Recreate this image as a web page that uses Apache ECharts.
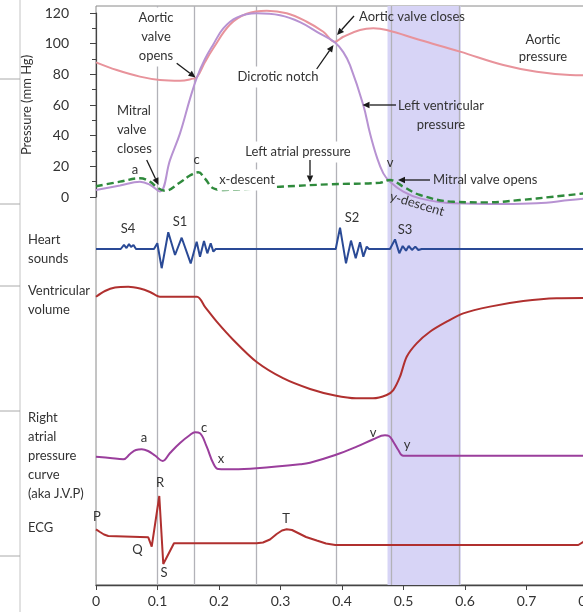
<!DOCTYPE html>
<html>
<head>
<meta charset="utf-8">
<script src="https://cdn.jsdelivr.net/npm/echarts@6/dist/echarts.min.js"></script>
<style>
  html, body { margin: 0; padding: 0; background: #fff; }
  #chart { width: 583px; height: 612px; }
</style>
</head>
<body>
<div id="chart"></div>
<script>
// Time axis (seconds)
const timeMin = 0;
const timeMax = 0.8;
const timeStep = 0.1;

// Timing of the cardiac events (vertical guide lines) and the rapid filling band
const eventTimes = [0.104, 0.1642, 0.261, 0.389, 0.4765, 0.593];
const fillingBand = [0.474, 0.593];

// Pressures, mm Hg  [time, value]
const aorticPressure = [
  [0, 87.8], [0.0337, 82.8], [0.0715, 78.5], [0.104, 76.3], [0.1366, 75.8], [0.1582, 77.2],
  [0.1642, 78.1], [0.1772, 88], [0.1907, 97], [0.2179, 112.5], [0.245, 119.5], [0.2776, 121.5],
  [0.3101, 119.8], [0.3426, 114.3], [0.3696, 107.8], [0.3886, 101.3], [0.4021, 104.5],
  [0.4293, 108.9], [0.4509, 110], [0.4727, 108.9], [0.5268, 102.4], [0.5919, 94.8],
  [0.6623, 86.1], [0.7166, 81.7], [0.7707, 79.6], [0.8, 79.4]
];
const leftVentricularPressure = [
  [0, 4.6], [0.039, 7.5], [0.0715, 10], [0.0878, 8], [0.104, 3.6], [0.1203, 24], [0.1366, 41.5],
  [0.1528, 64], [0.1642, 78.1], [0.1772, 90], [0.1907, 99.5], [0.207, 110], [0.2288, 117],
  [0.2613, 119.8], [0.2992, 118.5], [0.3317, 114], [0.3642, 106.5], [0.3886, 100.8], [0.4021, 94.5],
  [0.413, 86], [0.4346, 60], [0.4455, 41.5], [0.4564, 26.3], [0.4672, 15.4], [0.478, 10],
  [0.4997, 3.5], [0.5268, -0.9], [0.581, -4.1], [0.6623, -4.6], [0.7166, -4.1], [0.7707, -2], [0.8, -0.9]
];
const leftAtrialPressure = [
  [0, 7], [0.039, 10], [0.0715, 12.2], [0.0878, 10], [0.1013, 5.7], [0.1122, 4.1], [0.1366, 9.5],
  [0.1528, 14], [0.1663, 16.1], [0.1772, 12], [0.1907, 5.7], [0.207, 4.6], [0.2992, 6.7],
  [0.3805, 8.3], [0.4618, 9.3], [0.478, 11.1], [0.4997, 6.7], [0.5268, 1.3], [0.581, -3.1],
  [0.6353, -3.5], [0.6894, -2], [0.7436, 0.2], [0.8, 2.6]
];
const pressureTicks = [0, 20, 40, 60, 80, 100, 120];

// Heart sounds (relative amplitude)
const heartSounds = [
  [0, 0], [0.0402, 0], [0.0455, 0.17], [0.0496, 0.04], [0.0537, 0.21], [0.0569, 0.08], [0.061, 0.17], [0.065, 0],
  [0.0943, 0], [0.0997, 0.24], [0.1068, -0.8], [0.1175, 0.7], [0.1285, -0.25], [0.1393, 0.47], [0.154, -0.6],
  [0.1637, 0.3], [0.1691, -0.32], [0.1756, 0.33], [0.181, -0.18], [0.1865, 0.24], [0.1908, -0.11], [0.1947, 0],
  [0.3898, 0], [0.3968, 0.89], [0.4065, -0.6], [0.4146, 0.35], [0.4223, -0.39], [0.4293, 0.28], [0.4347, -0.32],
  [0.4402, 0.1], [0.4439, 0],
  [0.478, 0], [0.4862, 0.4], [0.4932, -0.18], [0.4987, 0.125], [0.5041, -0.07], [0.5085, 0.125], [0.5138, -0.04],
  [0.5192, 0.1], [0.5241, -0.04], [0.5296, 0], [0.8, 0]
];

// Ventricular volume, mL
const ventricularVolume = [
  [0, 122.8], [0.0146, 126.9], [0.0309, 129.4], [0.0525, 130], [0.0715, 128.7], [0.0878, 126.2],
  [0.104, 122.8], [0.1642, 122.8], [0.1772, 115.5], [0.1963, 104.9], [0.2233, 91.8], [0.2613, 76.0],
  [0.3041, 64.4], [0.348, 56.7], [0.3886, 52.0], [0.4228, 50.0], [0.4504, 50.0], [0.4727, 52.4],
  [0.4834, 55.9], [0.4943, 65.5], [0.5052, 79.8], [0.5214, 89.4], [0.543, 97.7], [0.5702, 104.9],
  [0.5972, 110.9], [0.6406, 115.7], [0.6948, 119.7], [0.749, 121.7], [0.8, 121.9]
];

// Right atrial pressure (J.V.P), mm Hg
const rightAtrialPressure = [
  [0, 3.66], [0.0228, 3.4], [0.0444, 3.14], [0.0553, 4.2], [0.065, 5.0], [0.0743, 5.14], [0.0846, 4.8],
  [0.0959, 3.9], [0.1085, 2.8], [0.1203, 4.4], [0.1366, 6.4], [0.1528, 8.0], [0.161, 8.54], [0.1691, 8.34],
  [0.18, 5.66], [0.1907, 2.34], [0.1989, 1.2], [0.2233, 1.14], [0.2613, 1.34], [0.3317, 2.14], [0.348, 2.46],
  [0.3891, 4.0], [0.4239, 5.66], [0.4509, 7.14], [0.4699, 7.94], [0.4764, 7.8], [0.4834, 6.66],
  [0.4915, 5.0], [0.4997, 3.86], [0.8, 3.86]
];

// ECG, mV
const ecg = [
  [0, 0.314], [0.0065, 0.26], [0.013, 0.21], [0.02, 0.18], [0.085, 0.154], [0.0906, -0.034],
  [0.1029, 0.98], [0.1094, -0.38], [0.1268, 0.034], [0.2613, 0.034], [0.2715, 0.05], [0.2829, 0.11],
  [0.2938, 0.22], [0.3024, 0.29], [0.31, 0.314], [0.3187, 0.3], [0.3285, 0.24], [0.3415, 0.16],
  [0.3589, 0.09], [0.374, 0.03], [0.3891, 0], [0.7842, 0], [0.7919, 0.06], [0.8, 0.14]
];

const FONT = 'Lato';
const INK = '#333';

const chart = echarts.init(document.getElementById('chart'), null, { renderer: 'canvas' });

const L = 96, R = -5;
function panel(top, height, extra) {
  return Object.assign({ left: L, right: R, top: top, height: height, outerBoundsMode: 'none', containLabel: false }, extra || {});
}
function hiddenX(i) {
  return { gridIndex: i, type: 'value', min: timeMin, max: timeMax, show: false };
}
function hiddenY(i, min, max) {
  return { gridIndex: i, type: 'value', min: min, max: max, show: false };
}
function curve(gi, data, color, extra) {
  return Object.assign({
    type: 'line', xAxisIndex: gi, yAxisIndex: gi, data: data, symbol: 'none',
    clip: false, smooth: 0.4,
    lineStyle: { color: color, width: 2 }, z: 5, silent: true
  }, extra || {});
}

function text(str, x, y, opt) {
  opt = opt || {};
  return {
    type: 'text', x: x, y: y, z: 100, rotation: opt.rotation || 0,
    style: Object.assign({
      text: str, fill: INK, fontFamily: FONT, fontSize: 13,
      align: 'center', verticalAlign: 'middle', lineHeight: 19
    }, opt.style || {})
  };
}
function whiteText(str, x, y, style) {
  return text(str, x, y, { style: Object.assign({ backgroundColor: '#fff', padding: [1, 2] }, style || {}) });
}
function arrow(x1, y1, x2, y2) {
  const a = Math.atan2(y2 - y1, x2 - x1);
  const len = 7, w = 3.2;
  const bx = x2 - len * Math.cos(a), by = y2 - len * Math.sin(a);
  const nx = -Math.sin(a), ny = Math.cos(a);
  return [
    { type: 'line', z: 101, shape: { x1: x1, y1: y1, x2: bx, y2: by }, style: { stroke: '#1a1a1a', lineWidth: 1.3 } },
    { type: 'polygon', z: 101, shape: { points: [[x2, y2], [bx + nx * w, by + ny * w], [bx - nx * w, by - ny * w]] }, style: { fill: '#1a1a1a' } }
  ];
}
function rule(x1, y1, x2, y2, color) {
  return { type: 'line', z: 1, shape: { x1: x1, y1: y1, x2: x2, y2: y2 }, style: { stroke: color, lineWidth: 1 } };
}

const graphics = [
  // page margin rules
  rule(20, 0, 20, 612, '#c4c4c4'),
  rule(0, 79, 20, 79, '#aaa'), rule(0, 204, 20, 204, '#aaa'), rule(0, 286, 20, 286, '#aaa'),
  rule(0, 411, 20, 411, '#aaa'), rule(0, 556, 20, 556, '#aaa'),

  // panel titles
  text('Heart\nsounds', 28, 249, { style: { align: 'left' } }),
  text('Ventricular\nvolume', 28, 300, { style: { align: 'left' } }),
  text('Right\natrial\npressure\ncurve\n(aka J.V.P)', 28, 456, { style: { align: 'left' } }),
  text('ECG', 28, 528, { style: { align: 'left' } }),

  // pressure annotations
  whiteText('Aortic\nvalve\nopens', 156, 37),
  text('Mitral\nvalve\ncloses', 117, 130, { style: { align: 'left' } }),
  text('a', 135, 170),
  text('c', 196.5, 160),
  whiteText('Dicrotic notch', 278, 77),
  text('Aortic valve closes', 412, 17),
  text('Aortic\npressure', 543, 48, { style: { lineHeight: 17 } }),
  text('Left ventricular\npressure', 441, 115, { style: { lineHeight: 19 } }),
  whiteText('Left atrial pressure', 298, 152),
  whiteText('x-descent', 247, 180),
  text('v', 390, 163),
  text('Mitral valve opens', 433, 180, { style: { align: 'left' } }),
  text('y-descent', 417, 204, { rotation: -0.29 }),

  // heart sound labels
  text('S4', 128, 229), text('S1', 180, 221.5), text('S2', 352, 218), text('S3', 405, 230),

  // J.V.P waves
  text('a', 144, 438), text('c', 204, 428), text('x', 221, 458.5), text('v', 373, 432.5), text('y', 407, 445),

  // ECG waves
  text('P', 97, 516.5), text('R', 160, 483), text('Q', 137.5, 550), text('S', 164, 572.5), text('T', 286, 519)
].concat(
  arrow(176.7, 63.3, 195.5, 77.5),
  arrow(146.7, 160, 158.5, 185),
  arrow(316.7, 69, 333.5, 45),
  arrow(354, 16, 337, 35),
  arrow(396, 105, 362.5, 105),
  arrow(310, 160, 310, 182.5),
  arrow(430, 180, 398, 180)
);

const option = {
  animation: false,
  backgroundColor: '#fff',
  textStyle: { fontFamily: FONT },
  grid: [
    { left: L, right: R, top: 6, bottom: 27, outerBoundsMode: 'none', containLabel: false,
      show: true, borderColor: '#8a8a8a', borderWidth: 1, backgroundColor: 'transparent', z: 0 },
    panel(13, 184),
    panel(225, 48),
    panel(279.7, 125.6),
    panel(425, 50),
    panel(495, 75)
  ],
  xAxis: [
    {
      gridIndex: 0, type: 'value', min: timeMin, max: timeMax, interval: timeStep,
      axisLine: { show: true, lineStyle: { color: '#444', width: 1.4 } },
      axisTick: { show: true, length: 5, lineStyle: { color: '#444' } },
      axisLabel: { fontSize: 14, color: INK, fontFamily: FONT, margin: 9, formatter: v => String(+v.toFixed(1)) },
      splitLine: { show: false }
    },
    hiddenX(1), hiddenX(2), hiddenX(3), hiddenX(4), hiddenX(5)
  ],
  yAxis: [
    hiddenY(0, 0, 1),
    {
      gridIndex: 1, type: 'value', min: pressureTicks[0], max: pressureTicks[pressureTicks.length - 1],
      interval: pressureTicks[1] - pressureTicks[0], position: 'left', offset: 17,
      axisLine: { show: true, lineStyle: { color: '#444', width: 1.2 } },
      axisTick: { show: true, length: 6, lineStyle: { color: '#444' } },
      minorTick: { show: true, splitNumber: 2, length: 4, lineStyle: { color: '#444' } },
      axisLabel: { fontSize: 14, color: INK, fontFamily: FONT, margin: 10 },
      splitLine: { show: false },
      name: 'Pressure (mm Hg)', nameLocation: 'middle', nameGap: 45,
      nameTextStyle: { fontSize: 13, color: INK, fontFamily: FONT }
    },
    hiddenY(2, -1, 1),
    hiddenY(3, 45, 135),
    hiddenY(4, 0, 10),
    hiddenY(5, -0.5, 1)
  ],
  series: [
    {
      type: 'line', xAxisIndex: 0, yAxisIndex: 0, data: [], silent: true, z: 1,
      markArea: {
        silent: true,
        itemStyle: { color: '#d7d4f6' },
        data: [[{ xAxis: fillingBand[0] }, { xAxis: fillingBand[1] }]]
      }
    },
    {
      type: 'line', xAxisIndex: 0, yAxisIndex: 0, data: [], silent: true, z: 2,
      markLine: {
        silent: true, symbol: 'none', animation: false,
        label: { show: false },
        lineStyle: { color: '#b2b2b8', width: 1.3, type: 'solid' },
        data: eventTimes.map(t => ({ xAxis: t }))
      }
    },
    curve(1, aorticPressure, '#e8939b'),
    curve(1, leftVentricularPressure, '#b792d2'),
    curve(1, leftAtrialPressure, '#2f8a3c', { lineStyle: { color: '#2f8a3c', width: 2.4, type: [7, 4] }, z: 6 }),
    curve(2, heartSounds, '#2a4a96', { smooth: false }),
    curve(3, ventricularVolume, '#b0302f', { smooth: 0.3 }),
    curve(4, rightAtrialPressure, '#9a3e9c'),
    curve(5, ecg, '#b0302f', { smooth: false })
  ],
  graphic: { elements: graphics }
};

chart.setOption(option);
</script>
</body>
</html>
